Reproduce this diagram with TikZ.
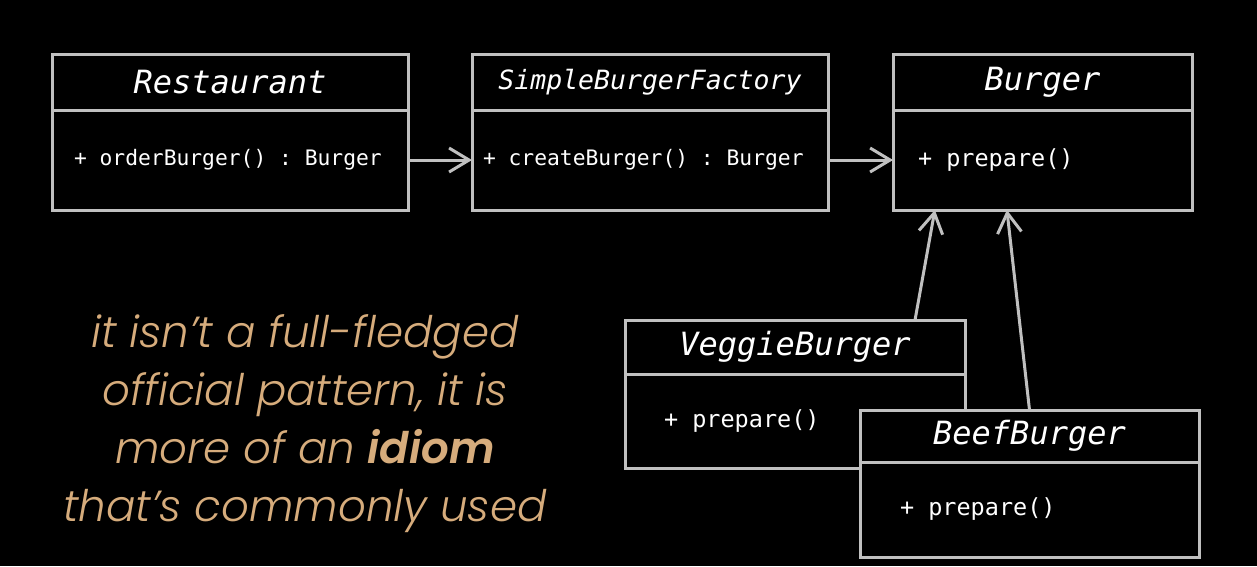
\documentclass[tikz,border=0pt]{standalone}
\usepackage{fontspec}
\setmonofont{DejaVu Sans Mono}
\newfontfamily\capfont{Poppins}[UprightFont=* Light, ItalicFont=* Light Italic, BoldFont=* SemiBold, BoldItalicFont=* SemiBold Italic]
\usetikzlibrary{positioning,calc,arrows.meta}

\definecolor{linegrey}{RGB}{192,192,192}
\definecolor{captan}{RGB}{214,172,124}

\newcommand\monospaces{\spaceskip=0.602em\relax\xspaceskip=0.602em\relax}

\tikzset{
  classname/.style={draw=linegrey, line width=3pt, fill=black, text=white, outer sep=0pt,
    font=\ttfamily\itshape\fontsize{32}{36}\selectfont, inner sep=0pt, anchor=north west},
  member/.style={draw=linegrey, line width=3pt, fill=black, text=white, outer sep=0pt,
    font=\ttfamily\fontsize{21.3}{26}\selectfont, execute at begin node=\monospaces,
    inner ysep=0pt, below=0pt of #1},
  bigmember/.style={member=#1, font=\ttfamily\fontsize{23.5}{28}\selectfont},
  link/.style={draw=linegrey, line width=3pt, -{Straight Barb[length=20pt,width=24pt]}},
  note/.style={text=captan, align=center, font=\capfont\itshape\fontsize{43.5}{58}\selectfont},
}

\begin{document}
\begin{tikzpicture}[x=1pt, y=-1pt]
  \useasboundingbox[fill=black] (0,0) rectangle (1257,566);

  \node[classname, minimum width=356, minimum height=56] (rest) at (52,54) {Restaurant};
  \node[member=rest, minimum height=100, text width=312pt, inner xsep=22pt] (restB) {+ orderBurger() : Burger};

  \node[classname, minimum width=356, minimum height=56, font=\ttfamily\itshape\fontsize{26.5}{30}\selectfont] (fact) at (472,54) {SimpleBurgerFactory};
  \node[member=fact, minimum height=100, text width=334pt, inner xsep=11pt] (factB) {+ createBurger() : Burger};

  \node[classname, minimum width=299, minimum height=56] (burg) at (893,54) {Burger};
  \node[bigmember=burg, minimum height=100, text width=249pt, inner xsep=25pt] (burgB) {+ prepare()};

  \node[classname, minimum width=340, minimum height=54] (veg) at (625,320) {VeggieBurger};
  \node[bigmember=veg, minimum height=94, text width=262pt, inner xsep=39pt] (vegB) {+ prepare()};

  \node[classname, minimum width=339, minimum height=52] (beef) at (860,410) {BeefBurger};
  \node[bigmember=beef, minimum height=95, text width=259pt, inner xsep=40pt] (beefB) {+ prepare()};

  \draw[link] (restB) -- (factB);
  \draw[link] (factB) -- (burgB);
  \draw[link] ($(veg.north west)!0.853!(veg.north east)$) -- ($(burgB.south west)!0.14!(burgB.south east)$);
  \draw[link] (beef.north) -- ($(burgB.south west)!0.381!(burgB.south east)$);

  \node[note] (idiom) at (305,424) {it isn’t a full-fledged\\official pattern, it is\\more of an \textbf{idiom}\\that’s commonly used};
\end{tikzpicture}
\end{document}
